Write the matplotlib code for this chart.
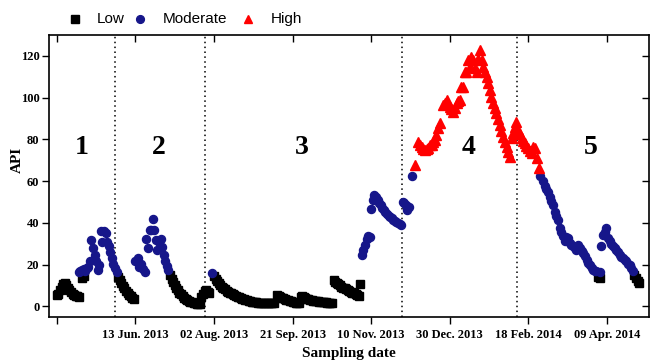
import matplotlib
matplotlib.use("Agg")
import matplotlib.pyplot as plt
from matplotlib.lines import Line2D

# x = days since 24 Apr. 2013
low_days = [0, 1, 2, 3, 4, 5, 6, 7, 8, 9, 10, 11, 12, 13, 14, 16, 17,
            39, 40, 41, 42, 43, 44, 45, 46, 47, 48, 49,
            72, 73, 74, 75, 76, 77, 78, 79, 80, 81, 82, 83, 84, 85, 86, 87, 88, 89, 90, 91,
            92, 93, 94, 95, 96, 97,
            100, 101, 102, 103, 104, 105, 106, 107, 108, 109, 110, 111, 112, 113, 114, 115,
            116, 117, 118, 119, 120, 121, 122, 123, 124, 125, 126, 127, 128, 129, 130, 131,
            132, 133, 134, 135, 136, 137, 138,
            140, 141, 142, 143, 144, 145, 146, 147, 148, 149, 150, 151, 152, 153, 154,
            155, 156, 157, 158, 159, 160, 161, 162, 163, 164, 165, 166, 167, 168, 169, 170,
            171, 172, 173, 174, 175,
            176, 177, 178, 179, 180, 181, 182, 183, 184, 185, 186, 187, 188, 189, 190, 191, 192, 193,
            344.5, 345.5, 367.5, 368.5, 369.5, 370.5]
low_vals = [5.5, 6, 8, 9.5, 10.5, 11, 10, 9, 8, 7, 6, 5.5, 5, 4.8, 4.5, 13.5, 14.5,
            14, 12.5, 11, 9.8, 8.6, 7.5, 6.5, 5.6, 4.8, 4, 3.3,
            15, 13.2, 11.5, 10, 8.8, 7.6, 6.6, 5.7, 4.9, 4.2, 3.6, 3.1, 2.6, 2.2, 1.9, 1.6, 1.4, 1.2, 1.0, 0.9,
            4.5, 6, 7.5, 8, 7, 6.5,
            14.5, 13.2, 12, 11, 10.2, 9.4, 8.7, 8.1, 7.5, 7, 6.6, 6.2, 5.8, 5.4, 5, 4.6,
            4.3, 4, 3.7, 3.4, 3.1, 2.9, 2.7, 2.5, 2.3, 2.1, 2, 1.9, 1.8, 1.7, 1.6, 1.5,
            1.5, 1.4, 1.4, 1.5, 1.5, 1.4, 1.4,
            5.5, 5, 4.6, 4.2, 3.8, 3.5, 3.2, 2.9, 2.6, 2.4, 2.2, 2, 1.8, 1.7, 1.6,
            4.5, 4.8, 4.3, 4, 3.7, 3.4, 3.2, 3, 2.8, 2.7, 2.5, 2.4, 2.3, 2.2, 2.1, 2,
            1.9, 1.8, 1.8, 1.7, 1.7,
            12.5, 11.5, 11, 10.5, 10, 9.5, 9, 8.6, 8.2, 7.8, 7.4, 7, 6.6, 6.2, 5.8, 5.4, 5, 10.5,
            14, 13.5, 15, 13.5, 12, 11]

mod_days = [14, 15, 16, 17, 18, 19, 20, 21, 22, 23, 24, 25, 26, 27, 28, 29, 30, 31, 32, 33,
            34, 35, 36, 37, 38,
            50, 51.5, 52.5, 53.5, 54.5, 56, 57, 58, 59, 60, 61, 62, 63, 64, 65, 66, 67, 68,
            69, 70, 71,
            99,
            194, 195, 196, 197, 198, 199, 200, 201, 202, 203, 204, 205, 206, 207, 208, 209,
            210, 211, 212, 213, 214, 215, 216, 217, 218, 219, 220, 221, 222, 222.5, 223, 224,
            226,
            307.7, 309, 310.4, 311.5, 312.5, 313.6, 314.6, 315.7, 316.8, 317.8, 318.9, 320,
            321, 322.1, 323.2, 324.2, 325.3, 326.3, 327.4, 328.4, 329.5, 330.6, 331.6, 332.7,
            333.8, 334.8, 335.9, 337, 338, 339.1, 340.2, 341.2, 342.3, 343.3, 345.4,
            346.5, 347.5, 348.6, 349.7, 350.7, 351.8, 352.8, 353.9, 355, 356, 357.1, 358.1,
            359.2, 360.2, 361.3, 362.4, 363.4, 364.5, 365.6, 366.6]
mod_vals = [16.5, 17, 17.5, 18, 17, 18.5, 19, 21.5, 32, 28, 24.5, 21.5, 17.5, 20, 36, 31,
            36, 35, 31, 29, 26, 23, 20.5, 18.5, 16.5,
            21.5, 23, 19, 20.5, 18, 16.5, 32.5, 28, 36.5, 36.5, 42, 36.5, 32, 27, 31, 32.5,
            28.5, 24.5, 21.5, 19.5, 17.5,
            16,
            24.5, 27, 29.5, 32.5, 33.5, 33, 46.5, 51, 53.5, 52.5, 51, 49.5, 48.5, 47, 46, 45,
            44, 43.5, 43, 42.3, 41.5, 41, 40.5, 40, 39.5, 39, 50, 49.5, 48.5, 46, 47.5, 47.5,
            62.5,
            62.5, 60, 57.5, 56, 55, 52.6, 50.5, 48.6, 45.4, 43.5, 41.4, 37.5,
            35.5, 33.5, 31.1, 33, 32.7, 30.3, 29.5, 28.7, 28, 27.1, 29.5, 28,
            26.3, 25.5, 24, 22.3, 21, 19.9, 18.5, 17.5, 17, 16.7, 16.5,
            28.7, 34.3, 35.5, 37.5, 32.7, 31.1, 30, 28.7, 28, 27.1, 26, 24.7,
            23.8, 23.1, 22, 21.5, 20.5, 19.9, 18.4, 17]

high_days = [227.7, 229.8, 231, 232, 233, 234.1, 235.2, 236.2, 237.3, 238.4, 239.4, 240.5,
             241.5, 242.6, 243.6, 245.7, 246.8, 247.9, 249, 250, 251, 252.1, 253.2, 254.3,
             255.3, 256.4, 257.4, 258.5, 259.5, 260.6, 261.6, 262.7, 263.8, 264.8, 265.9,
             267, 268, 269.1, 270.2, 271.2, 272.3, 273.4, 274.4, 275.4, 276.5, 277.6, 278.6,
             279.7, 280.7, 281.8, 282.8, 283.9, 285, 286.1, 287.1, 288.2,
             289.3, 290.3, 291.4, 292.4, 293.5, 294.6, 295.7, 296.7, 297.7, 298.8, 299.8,
             300.9, 302, 303, 304.1, 305.2, 306.6]
high_vals = [67.7, 78.9, 77.5, 76.5, 75.5, 74.9, 75.2, 75.7, 77.3, 77.3, 78.5, 79.7,
             82, 85.3, 88, 96.4, 97.5, 98.8, 97, 95.6, 94.5, 93.2, 95, 97.2,
             98.5, 98.8, 105.2, 104.9, 112.3, 112.3, 117.9, 114.7, 119.5, 117.9, 114,
             112.3, 118.7, 122.7, 117.9, 114.7, 112.3, 110, 106.8, 103.6, 100.4, 97.2, 94.8,
             92.4, 89.6, 86.9, 84.1, 81.3, 78.9, 76.5, 74.1, 71.7,
             80.5, 82.9, 86, 88.4, 84.5, 82.5, 80.5, 79.3, 78.1, 76.9, 75.7,
             74.5, 73.3, 76.5, 75.7, 70.9, 66.2]

period_bounds = [36.9, 94.4, 219.5, 293]
period_labels = ["1", "2", "3", "4", "5"]
period_label_x = [15.9, 64.9, 155.8, 261.7, 339.9]
period_label_y = 76

tick_days = [0, 50, 100, 150, 200, 250, 300, 350]
tick_labels = ["", "13 Jun. 2013", "02 Aug. 2013", "21 Sep. 2013", "10 Nov. 2013",
               "30 Dec. 2013", "18 Feb. 2014", "09 Apr. 2014"]
y_ticks = [0, 20, 40, 60, 80, 100, 120]

navy = "#16168a"
serif = "Liberation Serif"

fig = plt.figure(figsize=(6.54, 3.6), dpi=100)
ax = fig.add_axes([0.075, 0.12, 0.917, 0.783])

ax.plot(low_days, low_vals, linestyle="none", marker="s", ms=5.4, color="black", mec="black", zorder=3)
ax.plot(mod_days, mod_vals, linestyle="none", marker="o", ms=5.8, color=navy, mec=navy, zorder=3)
ax.plot(high_days, high_vals, linestyle="none", marker="^", ms=6.5, color="red", mec="red", zorder=3)

for b in period_bounds:
    ax.axvline(b, color="black", lw=1.1, linestyle=(0, (1, 2.2)), zorder=1)

for lx, lab in zip(period_label_x, period_labels):
    ax.text(lx, period_label_y, lab, ha="center", va="center", fontsize=20,
            fontweight="bold", family=serif)

ax.set_xlim(-5, 376.6)
ax.set_ylim(-5, 130)
ax.set_xticks(tick_days)
ax.set_xticklabels(tick_labels, fontsize=9, fontweight="bold", family=serif)
ax.set_yticks(y_ticks)
ax.set_yticklabels([str(v) for v in y_ticks], fontsize=9, fontweight="bold", family=serif)
ax.tick_params(axis="both", which="major", direction="out", length=5, width=1.0, pad=2,
               top=True, right=True)
ax.tick_params(axis="x", which="major", top=True, labeltop=False, pad=4)
ax.tick_params(axis="y", which="major", right=True, labelright=False)
# top / right ticks point inward
for t in ax.xaxis.get_major_ticks():
    t.tick2line.set_marker(3)  # TICKDOWN
for t in ax.yaxis.get_major_ticks():
    t.tick2line.set_marker(0)  # TICKLEFT
for s in ax.spines.values():
    s.set_linewidth(1.2)

ax.set_ylabel("API", fontsize=11, fontweight="bold", family=serif)
ax.yaxis.set_label_coords(-0.042, 0.556)
ax.set_xlabel("Sampling date", fontsize=11, fontweight="bold", family=serif, labelpad=4)

# legend across the top
leg_items = [("s", "black", 5.2, "Low", 75, 97),
             ("o", navy, 5.6, "Moderate", 140, 163),
             ("^", "red", 6.3, "High", 248, 271)]
for mk, col, ms, lab, mx, tx in leg_items:
    fig.add_artist(Line2D([mx / 654], [1 - 19 / 360], marker=mk, color=col, mec=col,
                          ms=ms, linestyle="none", transform=fig.transFigure))
    fig.text(tx / 654, 1 - 19 / 360, lab, ha="left", va="center", fontsize=11,
             family="Liberation Sans")

fig.savefig("out.png", dpi=100)
